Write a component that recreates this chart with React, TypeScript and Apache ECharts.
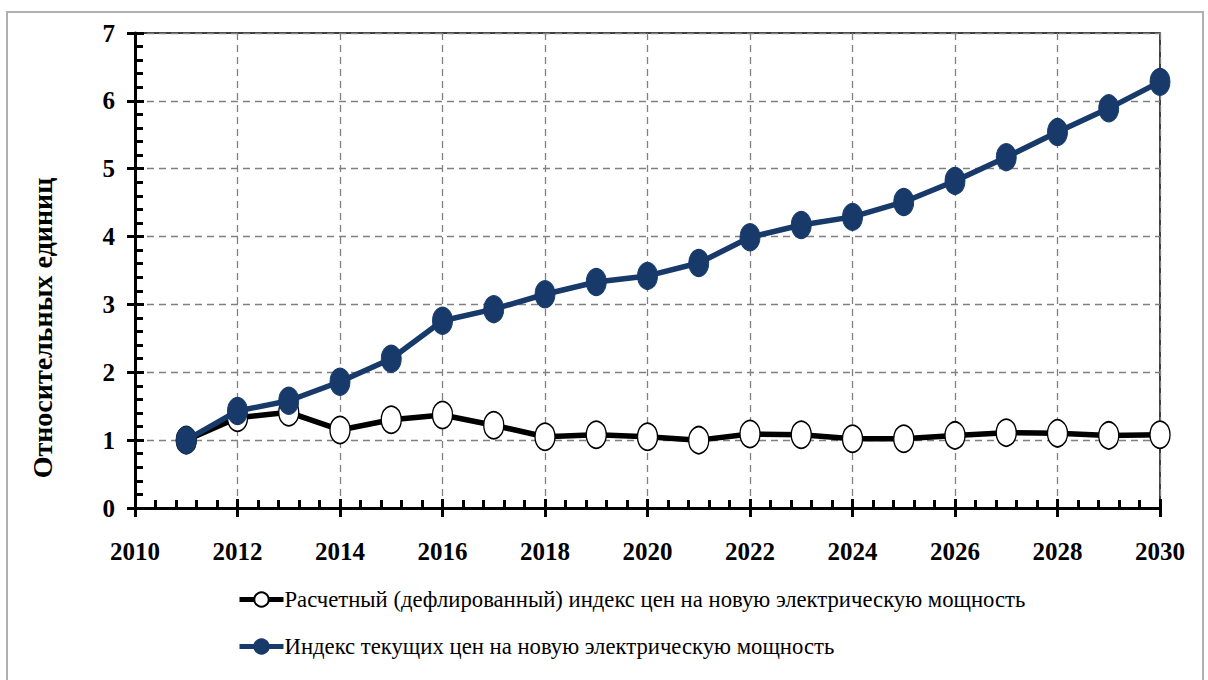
import React, { useEffect, useRef } from "react";
import * as echarts from "echarts";

const years = [2011, 2012, 2013, 2014, 2015, 2016, 2017, 2018, 2019, 2020, 2021, 2022, 2023, 2024, 2025, 2026, 2027, 2028, 2029, 2030];
const deflatedIndex = [1.0, 1.33, 1.41, 1.15, 1.3, 1.37, 1.22, 1.05, 1.08, 1.05, 1.0, 1.09, 1.08, 1.02, 1.02, 1.07, 1.11, 1.1, 1.07, 1.08];
const currentIndex = [1.0, 1.43, 1.58, 1.86, 2.2, 2.76, 2.93, 3.15, 3.33, 3.42, 3.61, 3.99, 4.17, 4.29, 4.51, 4.82, 5.17, 5.54, 5.89, 6.28];
const seriesNames = [
  "Расчетный (дефлированный) индекс цен на новую электрическую мощность",
  "Индекс текущих цен на новую электрическую мощность",
];
const yTitle = "Относительных единиц";

const FONT = "Liberation Serif";
const BLUE = "#173a6a";

export default function App() {
  const ref = useRef<HTMLDivElement>(null);
  useEffect(() => {
    if (!ref.current) return;
    const chart = echarts.init(ref.current, null, { renderer: "svg" });
    const pair = (vals: number[]) => years.map((y, i) => [y, vals[i]]);
    chart.setOption({
      animation: false,
      backgroundColor: "#fff",
      textStyle: { fontFamily: FONT },
      grid: {
        left: 135,
        right: 48,
        top: 33,
        bottom: 172,
        show: true,
        borderColor: "#000",
        borderWidth: 1.5,
        backgroundColor: "transparent",
      },
      graphic: [
        {
          type: "rect",
          shape: { x: 7, y: 12, width: 1196, height: 700 },
          style: { fill: "none", stroke: "#b0b0b0", lineWidth: 2 },
          silent: true,
        },
        {
          type: "text",
          x: 42,
          y: 328,
          rotation: Math.PI / 2,
          style: {
            text: yTitle,
            fontFamily: FONT,
            fontWeight: "bold",
            fontSize: 28,
            fill: "#000",
            align: "center",
            verticalAlign: "middle",
          },
        },
      ],
      legend: {
        orient: "vertical",
        left: 232,
        top: 583,
        itemGap: 24,
        itemWidth: 44,
        itemHeight: 18,
        lineStyle: { width: 5 },
        textStyle: { fontFamily: FONT, fontSize: 22.7, color: "#000", padding: [0, 0, 0, -4] },
        data: seriesNames,
      },
      xAxis: [
        {
          type: "value",
          min: 2010,
          max: 2030,
          interval: 2,
          axisLine: { show: true, lineStyle: { color: "#000", width: 3 } },
          axisTick: { show: true, inside: true, length: 9, lineStyle: { color: "#000", width: 3 } },
          minorTick: { show: true, splitNumber: 5, length: 8, lineStyle: { color: "#000", width: 3 } },
          axisLabel: {
            margin: 31,
            fontFamily: FONT,
            fontWeight: "bold",
            fontSize: 25,
            color: "#000",
            formatter: (v: number) => String(v),
          },
          splitLine: { show: true, lineStyle: { color: "#808080", width: 1.3, type: [7, 5] } },
        },
        {
          type: "value",
          min: 2010,
          max: 2030,
          interval: 2,
          position: "bottom",
          axisLine: { show: false },
          axisTick: { show: true, inside: false, length: 9, lineStyle: { color: "#000", width: 3 } },
          axisLabel: { show: false },
          splitLine: { show: false },
        },
      ],
      yAxis: [
        {
          type: "value",
          min: 0,
          max: 7,
          interval: 1,
          axisLine: { show: true, lineStyle: { color: "#000", width: 3 } },
          axisTick: { show: true, inside: true, length: 9, lineStyle: { color: "#000", width: 3 } },
          minorTick: { show: true, splitNumber: 5, length: 8, lineStyle: { color: "#000", width: 3 } },
          axisLabel: {
            margin: 20,
            fontFamily: FONT,
            fontWeight: "bold",
            fontSize: 25,
            color: "#000",
          },
          splitLine: { show: true, lineStyle: { color: "#808080", width: 1.3, type: [7, 5] } },
        },
        {
          type: "value",
          min: 0,
          max: 7,
          interval: 1,
          position: "left",
          axisLine: { show: false },
          axisTick: { show: true, inside: false, length: 8, lineStyle: { color: "#000", width: 3 } },
          axisLabel: { show: false },
          splitLine: { show: false },
        },
      ],
      series: [
        {
          name: seriesNames[0],
          type: "line",
          data: pair(deflatedIndex),
          symbol: "circle",
          symbolSize: [20, 27],
          lineStyle: { color: "#000", width: 5.5 },
          itemStyle: { color: "#fff", borderColor: "#000", borderWidth: 1.5 },
          z: 3,
        },
        {
          name: seriesNames[1],
          type: "line",
          data: pair(currentIndex),
          symbol: "circle",
          symbolSize: [20, 27],
          lineStyle: { color: BLUE, width: 5.5 },
          itemStyle: { color: BLUE, borderColor: BLUE, borderWidth: 1 },
          z: 4,
        },
      ],
    });
    return () => chart.dispose();
  }, []);
  return (
    <div
      ref={ref}
      style={{ position: "fixed", left: 0, top: 0, width: 1208, height: 680 }}
    />
  );
}
